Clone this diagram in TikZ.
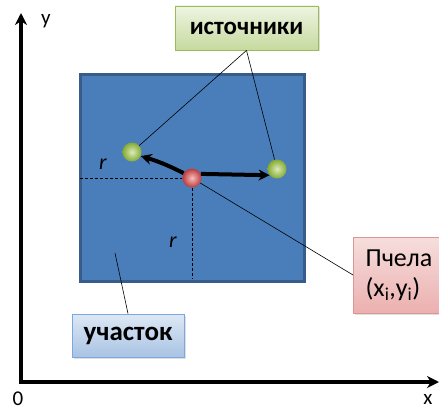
\documentclass[tikz,border=0pt]{standalone}
\usepackage{fontspec}
\setmainfont{Carlito}
\usetikzlibrary{arrows.meta,shadows}
\definecolor{sqfill}{HTML}{4A7EBB}
\definecolor{sqborder}{HTML}{385D8A}
\definecolor{grtop}{HTML}{EEF4E2}
\definecolor{grbot}{HTML}{C6DA9E}
\definecolor{grborder}{HTML}{9BBB59}
\definecolor{bltop}{HTML}{DDE8F5}
\definecolor{blbot}{HTML}{A9C3E3}
\definecolor{blborder}{HTML}{7EA6E0}
\definecolor{pktop}{HTML}{F6DEDD}
\definecolor{pkbot}{HTML}{EBB0AF}
\definecolor{pkborder}{HTML}{D99694}
\definecolor{ballgreen}{HTML}{9CC83A}
\definecolor{ballred}{HTML}{E04545}
\tikzset{
  axis/.style={line width=4pt, -{Stealth[length=12pt,width=12pt]}},
  lbl/.style={rectangle, line width=0.8pt, font=\fontsize{26}{28}\selectfont, inner sep=0pt,
    drop shadow={shadow xshift=1.5pt, shadow yshift=-1.5pt, opacity=0.25}},
  ball/.style={circle, minimum size=19pt, inner sep=0pt, shading=radial,
    inner color=#1!35!white, outer color=#1!85!black},
  pointer/.style={line width=0.6pt, black},
  move/.style={line width=4pt, -{Stealth[length=11pt,width=11pt]}},
  guide/.style={line width=0.9pt, dash pattern=on 3pt off 2pt},
  rlabel/.style={font=\fontsize{22}{24}\selectfont\itshape},
  axlabel/.style={font=\fontsize{21}{23}\selectfont}
}
\begin{document}
\begin{tikzpicture}[x=1pt,y=-1pt]
\useasboundingbox (0,0) rectangle (439,412);
% axes
\coordinate (o) at (21,382);
\coordinate (ytip) at (21,13);
\coordinate (xtip) at (439,382);
\draw[axis] ([yshift=-2pt]o) -- (ytip);
\draw[axis] ([xshift=-2pt]o) -- (xtip);
\node[axlabel] (ylab) at (46,21) {y};
\node[axlabel] (zero) at (18,399) {0};
\node[axlabel] (xlab) at (428,399) {x};
% plot area
\node[draw=sqborder, fill=sqfill, line width=3pt, rectangle, inner sep=0pt,
  minimum width=224pt, minimum height=207pt, anchor=north west] (area) at (79,73) {};
% dashed guides
\coordinate (gl) at (80,178);
\coordinate (gb) at (192,279);
\coordinate (red0) at (192,178);
\draw[guide] (gl) -- (red0);
\draw[guide] (red0) -- (gb);
\node[rlabel] (r1) at (103,164) {r};
\node[rlabel] (r2) at (173,242) {r};
% balls
\node[ball=ballgreen] (g1) at (132,152) {};
\node[ball=ballgreen] (g2) at (277,169) {};
\node[ball=ballred] (bee) at (192,178) {};
% movement arrows
\draw[move] (bee.150) to[bend right=5] (g1.-25);
\draw[move] (bee.25) -- (g2.220);
% labels
\node[lbl, draw=grborder, top color=grtop, bottom color=grbot,
  minimum width=143pt, minimum height=44pt, font=\fontsize{25}{28}\selectfont\bfseries] (src) at (246.5,28) {источники};
\node[lbl, draw=blborder, top color=bltop, bottom color=blbot,
  minimum width=112pt, minimum height=43pt, font=\fontsize{27}{28}\selectfont\bfseries] (uch) at (128,335.5) {участок};
\node[lbl, draw=pkborder, top color=pktop, bottom color=pkbot,
  minimum width=92pt, minimum height=76pt, anchor=west, align=left] (pch) at (353,275)
  {\hspace*{-1pt}Пчела\\[2pt]\hspace*{-1pt}(x\textsubscript{i},y\textsubscript{i})};
% pointers
\coordinate (areapt) at (115,253);
\draw[pointer] (src.south) -- (g1);
\draw[pointer] (src.south) -- (g2);
\draw[pointer] (bee) -- (pch.west);
\draw[pointer] (areapt) -- (uch.north);
\end{tikzpicture}
\end{document}
